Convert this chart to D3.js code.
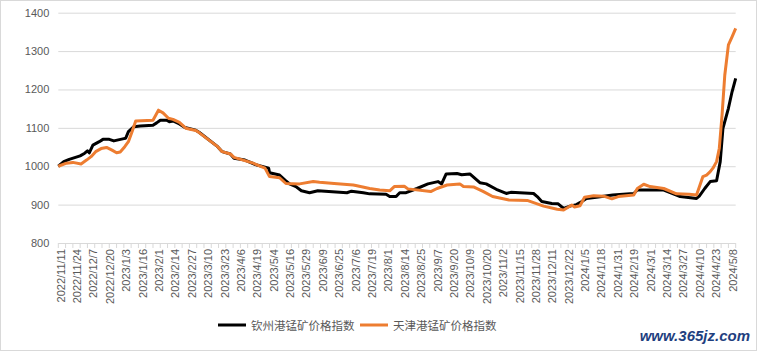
<!DOCTYPE html>
<html>
<head>
<meta charset="utf-8">
<script src="https://cdn.jsdelivr.net/npm/d3@7"></script>
<style>
    body { margin: 0; background: #fff; }
    text { font-family: "Liberation Sans", Arial, sans-serif; fill: #595959; }
    .legend text { font-family: "Noto Sans CJK SC", sans-serif; }
</style>
</head>
<body>
<div id="chart"></div>
<script>
var width = 757
var height = 351

// x axis labels, one every 9 trading days
var tickLabels = ['2022/11/11', '2022/11/24', '2022/12/7', '2022/12/20', '2023/1/3', '2023/1/16',
    '2023/2/1', '2023/2/14', '2023/2/27', '2023/3/10', '2023/3/23', '2023/4/6', '2023/4/19',
    '2023/5/4', '2023/5/16', '2023/5/29', '2023/6/9', '2023/6/25', '2023/7/6', '2023/7/19',
    '2023/8/1', '2023/8/14', '2023/8/25', '2023/9/7', '2023/9/20', '2023/10/9', '2023/10/20',
    '2023/11/2', '2023/11/15', '2023/11/28', '2023/12/11', '2023/12/22', '2024/1/5', '2024/1/18',
    '2024/1/31', '2024/2/19', '2024/3/1', '2024/3/14', '2024/3/27', '2024/4/10', '2024/4/23',
    '2024/5/8']
var labelStep = 9
var nDays = 373
var yTicks = [800, 900, 1000, 1100, 1200, 1300, 1400]

var seriesNames = ['钦州港锰矿价格指数', '天津港锰矿价格指数']
var seriesColors = ['#000000', '#ed7d31']

// [trading day index, index value]
var qinzhou = [[0, 1000], [3, 1012], [6, 1018], [12, 1027], [14.5, 1034], [16, 1040], [17, 1035],
    [19, 1055], [22.5, 1064], [24.5, 1070], [28, 1070], [30.5, 1066], [36, 1072], [37, 1073],
    [38.5, 1090], [41.5, 1103], [45, 1105], [52, 1107], [54, 1113], [56, 1120], [59.5, 1120],
    [61, 1116], [63, 1118], [66.5, 1110], [69.5, 1101], [75.5, 1094], [77.5, 1088], [87.5, 1051],
    [90, 1038], [94.5, 1032], [96.5, 1021], [102.5, 1016], [109, 1003], [112.5, 999], [115.5, 995],
    [116, 983], [121.5, 977], [124.5, 964], [127, 954], [130.5, 947], [133.5, 936], [138, 931],
    [142.5, 936], [158.5, 931], [161, 935], [167.5, 931], [171, 928], [180, 927], [182, 921],
    [185.5, 921], [187.5, 931], [191, 931], [197, 942], [203, 954], [208.5, 960], [210.5, 954],
    [213, 980], [219, 981], [221.5, 978], [226, 980], [231.5, 957], [235, 954], [240.5, 940],
    [246, 929], [248.5, 932], [261, 929], [263, 921], [265.5, 908], [271, 903], [274.5, 902],
    [277.5, 890], [281, 896], [284.5, 900], [287.5, 908], [290, 916], [295.5, 919], [304.5, 925],
    [316, 929], [318, 938], [332.5, 938], [336, 931], [341.5, 921], [350.5, 916], [352, 922],
    [355, 942], [358, 960], [361.5, 962], [363.5, 1012], [365, 1099], [368, 1151], [370, 1194],
    [372, 1229]]

var tianjin = [[0, 1000], [4.5, 1008], [8, 1010], [12.5, 1006], [15.5, 1016], [18, 1025],
    [20.5, 1038], [23.5, 1046], [26.5, 1049], [29.5, 1042], [32, 1035], [34, 1037], [36.5, 1051],
    [38.5, 1064], [40.5, 1090], [42.5, 1118], [52, 1120], [55, 1146], [57.5, 1139], [60.5, 1125],
    [63, 1122], [66.5, 1114], [70, 1099], [75.5, 1093], [77.5, 1087], [87.5, 1051], [90, 1038],
    [94.5, 1032], [96.5, 1023], [107, 1008], [113.5, 995], [116, 973], [121.5, 970], [125, 955],
    [132.5, 954], [140, 960], [143.5, 958], [151.5, 955], [162, 951], [164, 949], [171, 942],
    [176.5, 938], [182, 936], [184.5, 947], [190, 948], [192, 941], [204.5, 934], [208, 942],
    [213.5, 951], [220.5, 954], [222.5, 947], [228, 946], [233.5, 934], [238.5, 921], [247.5, 912],
    [257.5, 911], [266.5, 896], [274, 888], [277.5, 886], [280, 893], [282, 899], [283.5, 894],
    [286.5, 897], [289, 919], [294, 923], [299.5, 922], [304, 915], [307.5, 921], [316, 925],
    [318, 942], [321.5, 953], [325, 947], [332.5, 942], [339.5, 928], [346.5, 927], [350.5, 925],
    [354, 973], [356, 977], [358, 986], [359.5, 995], [361.5, 1012], [363, 1047], [364.5, 1133],
    [366, 1237], [368, 1316], [370, 1337], [372, 1359]]

var plot = { left: 58.3, right: 735.7, top: 12.7, bottom: 243 }

var svg = d3.select('#chart')
    .append('svg')
    .attr('width', width)
    .attr('height', height)

// outer frame
svg.append('rect')
    .attr('x', 0.5)
    .attr('y', 0.5)
    .attr('width', width - 1)
    .attr('height', height - 1)
    .attr('fill', '#fff')
    .attr('stroke', '#d9d9d9')

var x = d3.scaleLinear()
    .domain([0, nDays - 1])
    .range([plot.left, plot.right])

var y = d3.scaleLinear()
    .domain([800, 1400])
    .range([plot.bottom, plot.top])

// gridlines + y labels
var yAxis = d3.axisLeft(y)
    .tickValues(yTicks)
    .tickFormat(d3.format('d'))
    .tickSize(-(plot.right - plot.left))
    .tickPadding(9)

svg.append('g')
    .attr('transform', 'translate(' + plot.left + ',0)')
    .call(yAxis)
    .call(function (g) {
        g.select('.domain').remove()
        g.selectAll('line').attr('stroke', '#d9d9d9').attr('stroke-width', 1)
        g.selectAll('text')
            .style('font-size', '11px')
            .style('font-family', '"Liberation Sans", Arial, sans-serif')
            .attr('fill', '#595959')
    })

// x axis: small ticks every 4 days, labels every 9
var tickIdx = d3.range(0, nDays, 4)
svg.append('g')
    .selectAll('line')
    .data(tickIdx)
    .enter().append('line')
    .attr('x1', function (d) { return x(d) })
    .attr('x2', function (d) { return x(d) })
    .attr('y1', plot.bottom)
    .attr('y2', plot.bottom + 5)
    .attr('stroke', '#d9d9d9')

svg.append('g')
    .selectAll('text')
    .data(tickLabels)
    .enter().append('text')
    .text(function (d) { return d })
    .attr('transform', function (d, i) {
        return 'translate(' + (x(i * labelStep) + 2.5) + ',' + (plot.bottom + 6) + '),rotate(-90)'
    })
    .attr('text-anchor', 'end')
    .attr('dy', '0.35em')
    .style('font-size', '11px')

var line = d3.line()
    .x(function (d) { return x(d[0]) })
    .y(function (d) { return y(d[1]) })

var allSeries = [qinzhou, tianjin]
allSeries.forEach(function (data, i) {
    svg.append('path')
        .datum(data)
        .attr('fill', 'none')
        .attr('stroke', seriesColors[i])
        .attr('stroke-width', 3)
        .attr('stroke-linejoin', 'round')
        .attr('d', line)
})

// legend
var legend = svg.append('g').attr('class', 'legend')
var legendX = [218, 360]
seriesNames.forEach(function (name, i) {
    legend.append('line')
        .attr('x1', legendX[i])
        .attr('x2', legendX[i] + 28)
        .attr('y1', 325)
        .attr('y2', 325)
        .attr('stroke', seriesColors[i])
        .attr('stroke-width', 3)
    legend.append('text')
        .text(name)
        .attr('x', legendX[i] + 33)
        .attr('y', 329.5)
        .style('font-size', '11.5px')
})

// site mark
svg.append('text')
    .text('www.365jz.com')
    .attr('x', 750)
    .attr('y', 341)
    .attr('text-anchor', 'end')
    .style('font-size', '15px')
    .style('font-weight', 'bold')
    .style('font-style', 'italic')
    .style('fill', '#1f3f7f')
</script>
</body>
</html>
